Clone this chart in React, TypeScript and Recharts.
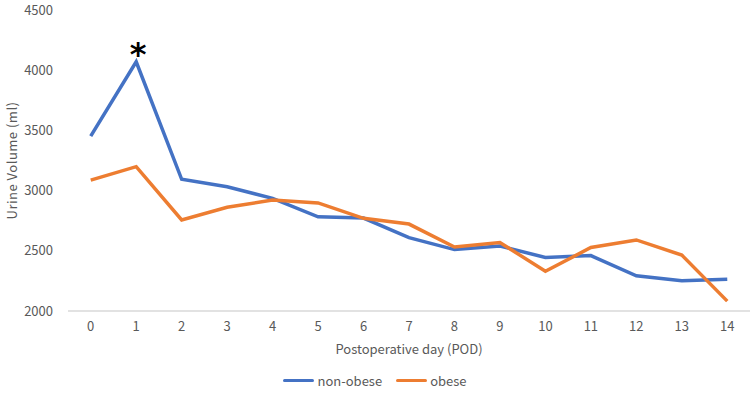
import { Line, LineChart, XAxis, YAxis } from "recharts";

// postoperative day
const days = ["0", "1", "2", "3", "4", "5", "6", "7", "8", "9", "10", "11", "12", "13", "14"];
// mean urine volume (ml)
const nonObese = [3453, 4070, 3094, 3032, 2936, 2782, 2772, 2609, 2510, 2540, 2444, 2460, 2292, 2252, 2264];
const obese = [3087, 3199, 2756, 2861, 2921, 2898, 2770, 2722, 2532, 2569, 2330, 2527, 2590, 2464, 2082];
const yTicks = [2000, 2500, 3000, 3500, 4000, 4500];
// day with a significant difference
const sigDay = 1;

const series = [
  { key: "nonObese", name: "non-obese", color: "#4472C4" },
  { key: "obese", name: "obese", color: "#ED7D31" },
];

const data = days.map((d, i) => ({ day: d, nonObese: nonObese[i], obese: obese[i] }));

const textColor = "#595959";
const font = "'Noto Sans CJK JP', 'Noto Sans', sans-serif";
// half of one category band, so points sit in the band centres
const halfBand = 682 / days.length / 2;

function SigMark(props: any) {
  if (props.index !== sigDay) return null;
  return (
    <text
      x={props.x + 2}
      y={props.y + 3}
      textAnchor="middle"
      fontSize={32}
      fontWeight="bold"
      fontFamily="'DejaVu Sans', sans-serif"
      fill="#000"
    >
      *
    </text>
  );
}

export default function App() {
  return (
    <div style={{ position: "absolute", left: 0, top: 0, width: 750, height: 400, fontFamily: font }}>
      <LineChart width={750} height={400} data={data} margin={{ top: 10, right: 0, left: 0, bottom: 0 }}>
        <XAxis
          dataKey="day"
          height={89}
          padding={{ left: halfBand, right: halfBand }}
          tickLine={false}
          tickMargin={5}
          axisLine={{ stroke: "#d9d9d9", strokeWidth: 1.5 }}
          tick={{ fill: textColor, fontSize: 13, fontFamily: font }}
          label={{
            value: "Postoperative day (POD)",
            position: "insideTop",
            offset: 34,
            fill: textColor,
            fontSize: 13,
            fontFamily: font,
          }}
        />
        <YAxis
          width={68}
          domain={[2000, 4500]}
          ticks={yTicks}
          tickLine={false}
          axisLine={false}
          tickMargin={9}
          tick={{ fill: textColor, fontSize: 13, fontFamily: font }}
          label={{
            value: "Urine Volume (ml)",
            angle: -90,
            position: "insideLeft",
            offset: 12,
            fill: textColor,
            fontSize: 13,
            fontFamily: font,
            style: { textAnchor: "middle", letterSpacing: 0.5 },
          }}
        />
        <Line
          type="linear"
          dataKey="nonObese"
          name="non-obese"
          stroke={series[0].color}
          strokeWidth={3.5}
          dot={false}
          activeDot={false}
          label={SigMark}
          isAnimationActive={false}
        />
        <Line
          type="linear"
          dataKey="obese"
          name="obese"
          stroke={series[1].color}
          strokeWidth={3.5}
          dot={false}
          activeDot={false}
          isAnimationActive={false}
        />
      </LineChart>
      <div
        style={{
          position: "absolute",
          top: 371,
          left: 0,
          width: 750,
          display: "flex",
          justifyContent: "center",
          gap: 14,
          fontSize: 13,
          color: textColor,
        }}
      >
        {series.map((s) => (
          <div key={s.key} style={{ display: "flex", alignItems: "center", gap: 3 }}>
            <span style={{ width: 31, height: 3, background: s.color, borderRadius: 1.5 }} />
            <span>{s.name}</span>
          </div>
        ))}
      </div>
    </div>
  );
}
